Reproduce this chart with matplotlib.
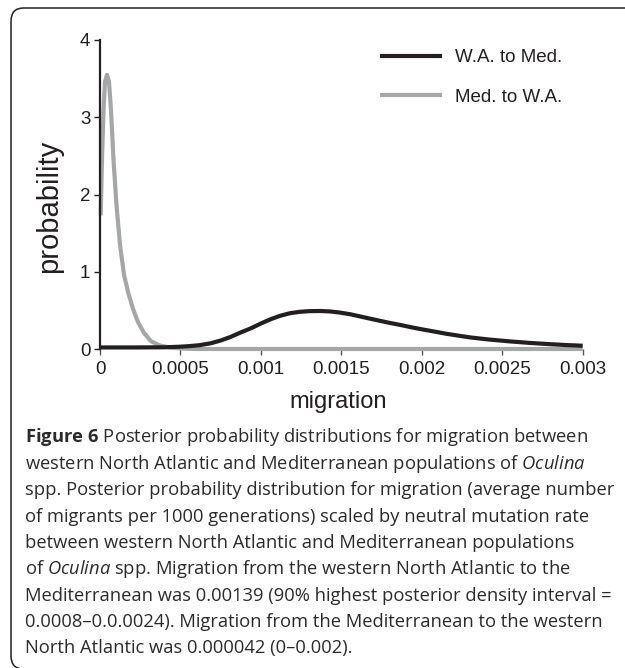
import matplotlib
matplotlib.use("Agg")
import matplotlib.pyplot as plt
from matplotlib.patches import FancyBboxPatch

# values
# W.A. to Med. (black curve)
wa_x = [0, 0.0002, 0.0004, 0.0005, 0.00056, 0.00062, 0.00069, 0.00075, 0.00081,
        0.00087, 0.00094, 0.001, 0.00106, 0.00112, 0.00118, 0.00124, 0.0013,
        0.00137, 0.00143, 0.00149, 0.00156, 0.00162, 0.00168, 0.00174, 0.0018,
        0.00187, 0.00193, 0.002, 0.00208, 0.00215, 0.00223, 0.0023, 0.00242,
        0.00255, 0.00267, 0.0028, 0.0029, 0.003]
wa_y = [0.02, 0.02, 0.022, 0.03, 0.038, 0.05, 0.075, 0.11, 0.155,
        0.21, 0.27, 0.33, 0.385, 0.43, 0.463, 0.481, 0.49,
        0.492, 0.486, 0.472, 0.448, 0.42, 0.392, 0.365, 0.338,
        0.31, 0.283, 0.255, 0.225, 0.198, 0.172, 0.15, 0.122,
        0.098, 0.079, 0.062, 0.051, 0.042]

# Med. to W.A. (grey curve)
med_x = [0.0000044, 0.0000124, 0.0000218, 0.0000311, 0.0000435, 0.0000559,
         0.0000684, 0.0000839, 0.0001026, 0.0001243, 0.0001492, 0.000174,
         0.000205, 0.000236, 0.000273, 0.000317, 0.000373, 0.000441, 0.00051,
         0.0006, 0.001, 0.0015, 0.002, 0.0025, 0.003]
med_y = [1.73, 2.45, 3.09, 3.46, 3.55, 3.46,
         3.09, 2.45, 1.86, 1.35, 0.96, 0.74,
         0.52, 0.35, 0.21, 0.10, 0.045, 0.017, 0.005,
         0.0, 0.0, 0.0, 0.0, 0.0, 0.0]

xticks = [0, 0.0005, 0.001, 0.0015, 0.002, 0.0025, 0.003]
xtick_labels = ["0", "0.0005", "0.001", "0.0015", "0.002", "0.0025", "0.003"]
yticks = [0, 1, 2, 3, 4]

caption = [
    r"$\mathbf{Figure\ 6}$ Posterior probability distributions for migration between",
    r"western North Atlantic and Mediterranean populations of $\mathit{Oculina}$",
    "spp. Posterior probability distribution for migration (average number",
    "of migrants per 1000 generations) scaled by neutral mutation rate",
    "between western North Atlantic and Mediterranean populations",
    r"of $\mathit{Oculina}$ spp. Migration from the western North Atlantic to the",
    "Mediterranean was 0.00139 (90% highest posterior density interval =",
    "0.0008\u20130.0.0024). Migration from the Mediterranean to the western",
    "North Atlantic was 0.000042 (0\u20130.002).",
]

dark = "#231f20"
grey = "#a4a6a8"

plt.rcParams["font.family"] = ["Liberation Sans", "DejaVu Sans"]
plt.rcParams["mathtext.fontset"] = "custom"
plt.rcParams["mathtext.rm"] = "Open Sans"
plt.rcParams["mathtext.it"] = "Open Sans:italic"
plt.rcParams["mathtext.bf"] = "Open Sans:bold"

W, H = 625, 668
fig = plt.figure(figsize=(W / 100, H / 100), dpi=100)

# rounded frame around figure + caption
box = FancyBboxPatch((11 / W, 1 - 669 / H), (720 - 11) / W, (669 - 8) / H,
                     boxstyle="round,pad=0,rounding_size=0.02",
                     transform=fig.transFigure, fill=False,
                     edgecolor=dark, linewidth=1.1, clip_on=False)
fig.patches.append(box)

ax = fig.add_axes([100 / W, 1 - 349 / H, 482.7 / W, 309 / H])

l2, = ax.plot(med_x, med_y, color=grey, lw=3, solid_capstyle="butt",
              clip_on=False, label="Med. to W.A.")
l1, = ax.plot(wa_x, wa_y, color=dark, lw=3, solid_capstyle="butt",
              clip_on=False, label="W.A. to Med.")

ax.set_xlim(0, 0.003)
ax.set_ylim(0, 4)
ax.set_xticks(xticks)
ax.set_xticklabels(xtick_labels)
ax.set_yticks(yticks)

for s in ["top", "right", "bottom"]:
    ax.spines[s].set_visible(False)
ax.spines["left"].set_color(dark)
ax.spines["left"].set_linewidth(1.6)

ax.tick_params(axis="y", direction="out", length=4, width=1, color=dark,
               labelsize=13.5, labelcolor=dark, pad=3)
ax.tick_params(axis="x", direction="out", length=4, width=1, color="#555555",
               labelsize=13.5, labelcolor=dark, pad=5)

ax.set_xlabel("migration", fontsize=17, color=dark)
ax.xaxis.set_label_coords(0.4925, -0.135)
ax.set_ylabel("probability", fontsize=21, color=dark)
ax.yaxis.set_label_coords(-0.076, 0.461)

leg = ax.legend(handles=[l1, l2], loc="upper left",
                bbox_to_anchor=(0.58, 0.97), frameon=False, fontsize=13.5,
                handlelength=3.3, handletextpad=0.72, labelspacing=1.2,
                borderpad=0, borderaxespad=0)
for t in leg.get_texts():
    t.set_color(dark)

for i, line in enumerate(caption):
    fig.text(25 / W, 1 - (442.5 + 26.35 * i) / H, line, family="Open Sans",
             fontsize=13.25, color="#2b2b2b", va="baseline", ha="left")

fig.savefig("out.png", dpi=100)
